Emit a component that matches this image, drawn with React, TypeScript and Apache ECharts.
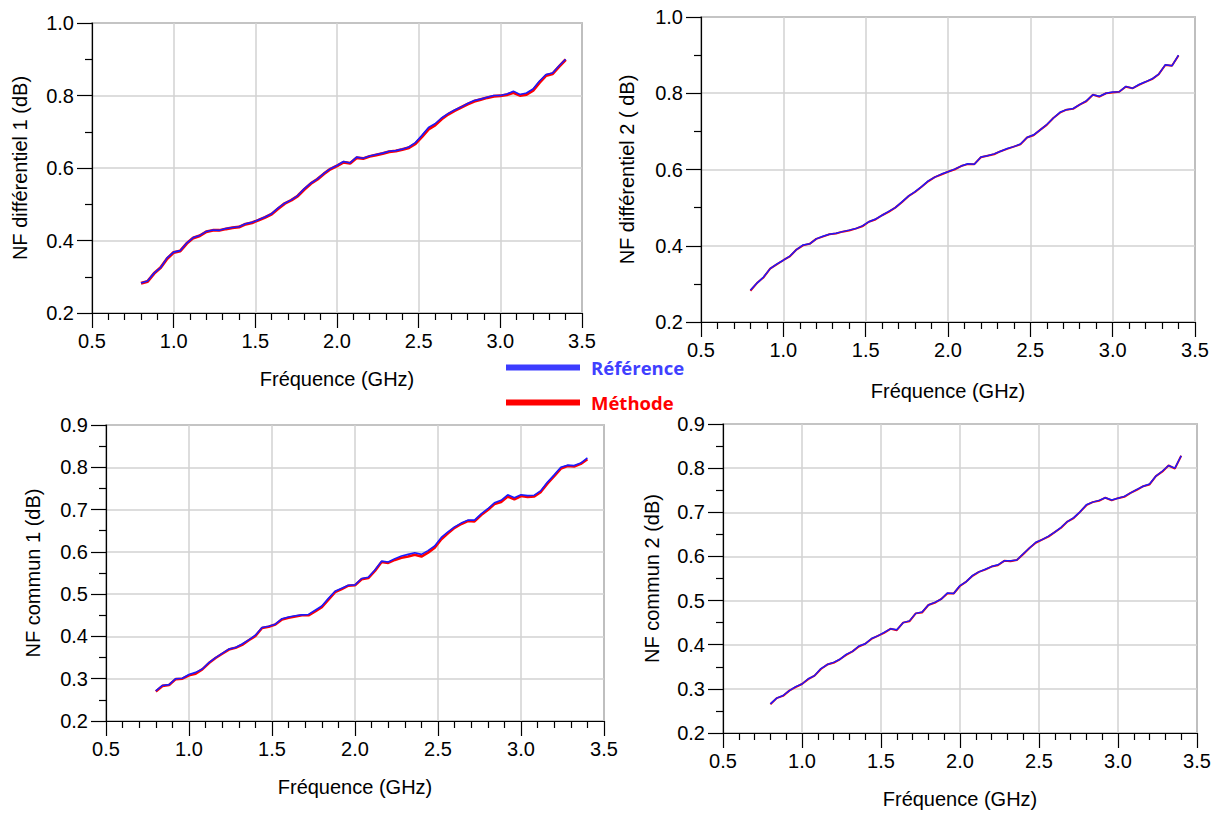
import React, { useEffect, useRef } from "react";
import * as echarts from "echarts";

// Frequency sweep (GHz)
const freq = [
  0.80, 0.84, 0.88, 0.92, 0.96, 1.00, 1.04, 1.08, 1.12, 1.16,
  1.20, 1.24, 1.28, 1.32, 1.36, 1.40, 1.44, 1.48, 1.52, 1.56,
  1.60, 1.64, 1.68, 1.72, 1.76, 1.80, 1.84, 1.88, 1.92, 1.96,
  2.00, 2.04, 2.08, 2.12, 2.16, 2.20, 2.24, 2.28, 2.32, 2.36,
  2.40, 2.44, 2.48, 2.52, 2.56, 2.60, 2.64, 2.68, 2.72, 2.76,
  2.80, 2.84, 2.88, 2.92, 2.96, 3.00, 3.04, 3.08, 3.12, 3.16,
  3.20, 3.24, 3.28, 3.32, 3.36, 3.40,
];

// NF différentiel 1
const diff1Ref = [
  0.283, 0.288, 0.310, 0.325, 0.352, 0.368, 0.372, 0.393, 0.408, 0.414,
  0.425, 0.429, 0.428, 0.433, 0.436, 0.438, 0.446, 0.450, 0.457, 0.465,
  0.474, 0.490, 0.503, 0.512, 0.524, 0.543, 0.558, 0.570, 0.585, 0.598,
  0.607, 0.618, 0.614, 0.630, 0.627, 0.633, 0.637, 0.641, 0.646, 0.648,
  0.652, 0.658, 0.670, 0.690, 0.712, 0.722, 0.738, 0.750, 0.760, 0.768,
  0.778, 0.786, 0.790, 0.795, 0.800, 0.800, 0.804, 0.812, 0.803, 0.807,
  0.818, 0.840, 0.858, 0.862, 0.882, 0.900,
];
const diff1Meth = [
  0.282, 0.287, 0.309, 0.325, 0.350, 0.367, 0.371, 0.392, 0.407, 0.413,
  0.424, 0.428, 0.428, 0.432, 0.435, 0.437, 0.445, 0.449, 0.456, 0.464,
  0.473, 0.488, 0.502, 0.511, 0.523, 0.541, 0.557, 0.569, 0.584, 0.597,
  0.606, 0.616, 0.613, 0.628, 0.626, 0.632, 0.636, 0.640, 0.645, 0.647,
  0.651, 0.656, 0.667, 0.686, 0.707, 0.718, 0.735, 0.748, 0.758, 0.767,
  0.776, 0.784, 0.789, 0.794, 0.798, 0.799, 0.802, 0.808, 0.800, 0.803,
  0.814, 0.836, 0.855, 0.860, 0.880, 0.899,
];

// NF différentiel 2
const diff2Ref = [
  0.283, 0.302, 0.318, 0.340, 0.352, 0.362, 0.373, 0.390, 0.402, 0.405,
  0.418, 0.425, 0.430, 0.433, 0.437, 0.441, 0.445, 0.452, 0.463, 0.470,
  0.480, 0.490, 0.500, 0.515, 0.530, 0.542, 0.555, 0.570, 0.580, 0.588,
  0.594, 0.601, 0.609, 0.615, 0.614, 0.633, 0.636, 0.641, 0.648, 0.655,
  0.660, 0.667, 0.684, 0.691, 0.704, 0.718, 0.735, 0.750, 0.757, 0.760,
  0.770, 0.780, 0.796, 0.792, 0.800, 0.803, 0.804, 0.818, 0.813, 0.823,
  0.830, 0.838, 0.850, 0.875, 0.872, 0.900,
];
const diff2Meth = [
  0.282, 0.302, 0.317, 0.340, 0.351, 0.362, 0.372, 0.390, 0.401, 0.405,
  0.418, 0.424, 0.430, 0.432, 0.437, 0.440, 0.445, 0.451, 0.463, 0.469,
  0.480, 0.489, 0.500, 0.514, 0.530, 0.541, 0.555, 0.569, 0.580, 0.587,
  0.594, 0.600, 0.609, 0.614, 0.614, 0.632, 0.636, 0.640, 0.648, 0.654,
  0.660, 0.666, 0.684, 0.690, 0.704, 0.717, 0.735, 0.749, 0.757, 0.759,
  0.770, 0.779, 0.796, 0.791, 0.800, 0.802, 0.804, 0.817, 0.813, 0.822,
  0.830, 0.837, 0.850, 0.874, 0.872, 0.899,
];

// NF commun 1
const com1Ref = [
  0.271, 0.284, 0.286, 0.300, 0.301, 0.310, 0.315, 0.323, 0.338, 0.350,
  0.360, 0.370, 0.374, 0.382, 0.392, 0.403, 0.421, 0.424, 0.429, 0.442,
  0.446, 0.449, 0.451, 0.452, 0.462, 0.472, 0.490, 0.507, 0.514, 0.521,
  0.522, 0.537, 0.540, 0.557, 0.578, 0.576, 0.584, 0.590, 0.594, 0.598,
  0.594, 0.603, 0.614, 0.634, 0.647, 0.659, 0.668, 0.675, 0.675, 0.690,
  0.702, 0.716, 0.722, 0.735, 0.728, 0.735, 0.733, 0.734, 0.745, 0.765,
  0.782, 0.800, 0.805, 0.804, 0.810, 0.822,
];
const com1Meth = [
  0.270, 0.283, 0.285, 0.299, 0.300, 0.308, 0.312, 0.322, 0.337, 0.349,
  0.359, 0.369, 0.373, 0.380, 0.391, 0.401, 0.420, 0.423, 0.428, 0.440,
  0.444, 0.447, 0.450, 0.450, 0.459, 0.469, 0.487, 0.505, 0.512, 0.520,
  0.521, 0.535, 0.538, 0.555, 0.576, 0.574, 0.581, 0.586, 0.589, 0.593,
  0.589, 0.598, 0.610, 0.630, 0.644, 0.657, 0.666, 0.673, 0.672, 0.687,
  0.699, 0.713, 0.718, 0.731, 0.724, 0.732, 0.730, 0.731, 0.742, 0.762,
  0.779, 0.797, 0.803, 0.802, 0.808, 0.819,
];

// NF commun 2
const com2Ref = [
  0.266, 0.279, 0.285, 0.296, 0.305, 0.311, 0.323, 0.330, 0.346, 0.355,
  0.360, 0.367, 0.378, 0.385, 0.397, 0.402, 0.414, 0.420, 0.428, 0.436,
  0.434, 0.450, 0.454, 0.471, 0.474, 0.490, 0.496, 0.503, 0.517, 0.516,
  0.534, 0.543, 0.557, 0.565, 0.571, 0.577, 0.581, 0.590, 0.590, 0.592,
  0.606, 0.619, 0.632, 0.638, 0.646, 0.655, 0.666, 0.679, 0.688, 0.701,
  0.717, 0.723, 0.727, 0.733, 0.728, 0.732, 0.736, 0.744, 0.752, 0.759,
  0.764, 0.782, 0.793, 0.806, 0.800, 0.828,
];
const com2Meth = [
  0.265, 0.279, 0.284, 0.296, 0.304, 0.311, 0.322, 0.330, 0.345, 0.355,
  0.359, 0.367, 0.377, 0.385, 0.396, 0.402, 0.413, 0.420, 0.427, 0.436,
  0.433, 0.450, 0.453, 0.471, 0.473, 0.490, 0.495, 0.503, 0.516, 0.516,
  0.533, 0.543, 0.556, 0.565, 0.570, 0.577, 0.580, 0.590, 0.589, 0.592,
  0.605, 0.619, 0.631, 0.638, 0.645, 0.655, 0.665, 0.679, 0.687, 0.701,
  0.716, 0.723, 0.726, 0.733, 0.727, 0.732, 0.735, 0.744, 0.751, 0.759,
  0.763, 0.782, 0.792, 0.806, 0.799, 0.828,
];

const xName = "Fréquence (GHz)";
const refName = "Référence";
const methName = "Méthode";

const panels = [
  { grid: { left: 92, top: 23, width: 490, height: 290 }, yMin: 0.2, yMax: 1.0, yInterval: 0.2,
    yName: "NF différentiel 1 (dB)", ref: diff1Ref, meth: diff1Meth, xGap: 56, yGap: 62, methW: 3, refW: 1.6 },
  { grid: { left: 701, top: 17, width: 494, height: 305 }, yMin: 0.2, yMax: 1.0, yInterval: 0.2,
    yName: "NF différentiel 2 ( dB)", ref: diff2Ref, meth: diff2Meth, xGap: 59, yGap: 64, methW: 2, refW: 1.5 },
  { grid: { left: 106, top: 425, width: 498, height: 296 }, yMin: 0.2, yMax: 0.9, yInterval: 0.1,
    yName: "NF commun 1 (dB)", ref: com1Ref, meth: com1Meth, xGap: 56, yGap: 63, methW: 2.6, refW: 1.6 },
  { grid: { left: 723, top: 424, width: 474, height: 309 }, yMin: 0.2, yMax: 0.9, yInterval: 0.1,
    yName: "NF commun 2 (dB)", ref: com2Ref, meth: com2Meth, xGap: 56, yGap: 61, methW: 2, refW: 1.5 },
];

const FONT = '"Liberation Sans", Arial, sans-serif';

export default function App() {
  const ref = useRef<HTMLDivElement>(null);
  useEffect(() => {
    if (!ref.current) return;
    const chart = echarts.init(ref.current, undefined, { renderer: "svg" });
    const grids: any[] = [];
    const xAxes: any[] = [];
    const yAxes: any[] = [];
    const series: any[] = [];
    panels.forEach((p, i) => {
      grids.push({ ...p.grid, show: true, borderColor: "#3a3a3a", borderWidth: 1.2, containLabel: false });
      xAxes.push({
        type: "value", gridIndex: i, min: 0.5, max: 3.5, interval: 0.5,
        name: xName, nameLocation: "middle", nameGap: p.xGap,
        nameTextStyle: { fontSize: 20, color: "#000", fontFamily: FONT },
        axisLine: { show: true, onZero: false, lineStyle: { color: "#000", width: 1.2 } },
        axisTick: { show: true, length: 15, lineStyle: { color: "#000", width: 1.2 } },
        minorTick: { show: true, splitNumber: 5, length: 7, lineStyle: { color: "#000", width: 1.2 } },
        axisLabel: { fontSize: 20, color: "#000", fontFamily: FONT, margin: 18, formatter: (v: number) => v.toFixed(1) },
        splitLine: { show: true, lineStyle: { color: "#d2d2d2", width: 1.5 } },
      });
      yAxes.push({
        type: "value", gridIndex: i, min: p.yMin, max: p.yMax, interval: p.yInterval,
        name: p.yName, nameLocation: "middle", nameGap: p.yGap,
        nameTextStyle: { fontSize: 20, color: "#000", fontFamily: FONT },
        axisLine: { show: true, onZero: false, lineStyle: { color: "#000", width: 1.2 } },
        axisTick: { show: true, length: 15, lineStyle: { color: "#000", width: 1.2 } },
        minorTick: { show: true, splitNumber: 2, length: 7, lineStyle: { color: "#000", width: 1.2 } },
        axisLabel: { fontSize: 20, color: "#000", fontFamily: FONT, margin: 18, formatter: (v: number) => v.toFixed(1) },
        splitLine: { show: true, lineStyle: { color: "#d2d2d2", width: 1.5 } },
      });
      series.push({
        type: "line", name: methName, xAxisIndex: i, yAxisIndex: i,
        data: freq.map((f, k) => [f, p.meth[k]]),
        showSymbol: false, symbol: "none",
        lineStyle: { color: "#ff0000", width: p.methW },
        itemStyle: { color: "#ff0000" },
      });
      series.push({
        type: "line", name: refName, xAxisIndex: i, yAxisIndex: i,
        data: freq.map((f, k) => [f, p.ref[k]]),
        showSymbol: false, symbol: "none",
        lineStyle: { color: "#1a1aff", width: p.refW },
        itemStyle: { color: "#1a1aff" },
      });
    });
    chart.setOption({
      animation: false,
      backgroundColor: "#ffffff",
      grid: grids,
      xAxis: xAxes,
      yAxis: yAxes,
      series,
      legend: {
        orient: "vertical", left: 506, top: 358, padding: 0,
        itemWidth: 74, itemHeight: 6, itemGap: 16, icon: "rect",
        textStyle: { fontSize: 18.5, fontWeight: "bold", fontFamily: '"Open Sans", sans-serif', padding: [0, 0, 0, 6] },
        data: [
          { name: refName, itemStyle: { color: "#3c3cff" }, textStyle: { color: "#4040ff" } },
          { name: methName, itemStyle: { color: "#ff0000" }, textStyle: { color: "#ff0000" } },
        ],
      },
    });
    return () => chart.dispose();
  }, []);
  return (
    <div
      ref={ref}
      style={{ position: "absolute", left: 0, top: 0, width: 1220, height: 813 }}
    />
  );
}
